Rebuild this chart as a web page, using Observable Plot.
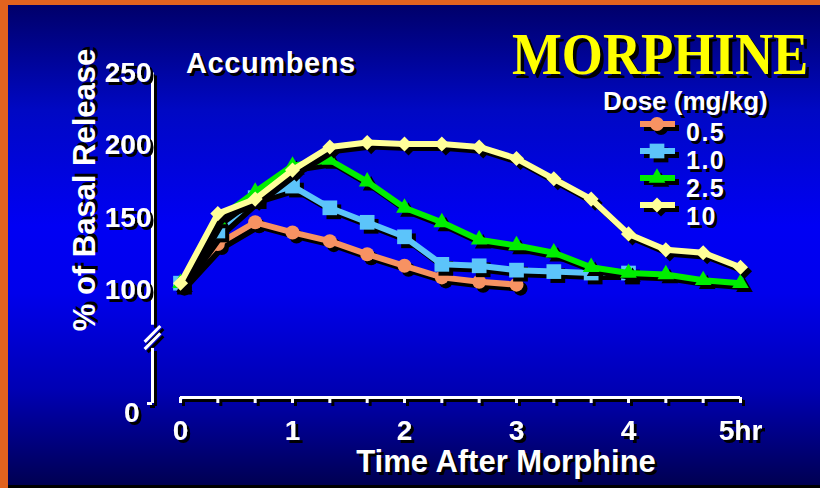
<!DOCTYPE html>
<html><head><meta charset="utf-8">
<script src="https://cdn.jsdelivr.net/npm/d3@7"></script>
<script src="https://cdn.jsdelivr.net/npm/@observablehq/plot@0.6"></script>
<style>
html,body{margin:0;padding:0;background:#e2631f;}
#wrap{position:relative;width:820px;height:488px;overflow:hidden;background:#e2631f;font-family:"Liberation Sans",Arial,sans-serif;font-weight:bold;}
#bg{position:absolute;left:8px;top:5px;right:0;bottom:0;background:linear-gradient(to bottom,#00006a 0%,#0008c4 22%,#0000f4 46%,#0000ec 60%,#0000b4 80%,#000052 100%);border-bottom:3px solid #000;}
#chart{position:absolute;left:0;top:0;}
.t{position:absolute;color:#fff;text-shadow:3px 3px 0 #000;white-space:nowrap;line-height:1;}
</style></head><body>
<div id="wrap"><div id="bg"></div><div id="chart"></div><div id="over"></div></div>
<script>
// ---- data ----
const minutes = [0,20,40,60,80,100,120,140,160,180,200,220,240,260,280,300];
const doses = ["0.5","1.0","2.5","10"];
const release05 = [104,132,147,140,134,125,117,109,106,104];
const release10 = [105,141,164,172,157,147,137,118,117,114,113,112,112];
const release25 = [105,149,168,186,190,175,157,147,135,131,126,116,112,111,107,105];
const release100 = [105,153,163,183,199,202,201,201,199,191,177,163,139,128,126,116];
const seriesColors = ["#f79262","#5cc4fa","#00ee00","#ffff99"];
const seriesSymbols = ["circle","square","triangle","diamond2"];
const yTickValues = [0,100,150,200,250];
const yTickLabels = ["0","100","150","200","250"];
const xTickValues = [0,1,2,3,4,5];
const xTickLabels = ["0","1","2","3","4","5hr"];
const titleText = "MORPHINE";
const regionText = "Accumbens";
const legendTitle = "Dose (mg/kg)";
const xTitle = "Time After Morphine";
const yTitle = "% of Basal Release";

// broken axis: the "0" is drawn at the axis floor
const AXIS_FLOOR = 22;
const xDomain = [-0.25, 5];
const yAxisSegments = [{from: 76, to: 250}, {from: AXIS_FLOOR, to: 60}];
const yBreaks = [70, 65];

const seriesValues = [release05, release10, release25, release100];
const series = doses.map((dose, i) => seriesValues[i].map((v, j) => ({dose, hours: minutes[j] / 60, release: v})));

const symR = {circle: 7, square: 8.3, triangle: 6.2, diamond2: 6.8};
const SH = 4; // drop shadow offset

const marks = [];
// axis lines (shadow copy, then white)
for (const [c, o] of [["black", SH - 1], ["white", 0]]) {
  marks.push(Plot.ruleX(yAxisSegments, {x: xDomain[0], y1: "from", y2: "to", stroke: c, strokeWidth: 3, dx: o, dy: o}));
  marks.push(Plot.link(yBreaks, {x1: () => xDomain[0] - 0.07, x2: () => xDomain[0] + 0.07, y1: d => d - 5.5, y2: d => d + 5.5, stroke: c, strokeWidth: 3, dx: o, dy: o}));
  marks.push(Plot.ruleY([AXIS_FLOOR], {x1: xTickValues[0], x2: xTickValues[xTickValues.length - 1], stroke: c, strokeWidth: 3, dx: o, dy: o - 6}));
  marks.push(Plot.axisX({ticks: minutes.map(m => m / 60), anchor: "bottom", tickSize: 6, text: null, label: null, stroke: c, strokeWidth: 3, dx: o, dy: o - 6}));
  marks.push(Plot.axisY({ticks: yTickValues.slice(1), anchor: "left", tickSize: 5, text: null, label: null, stroke: c, strokeWidth: 3, dx: o, dy: o}));
  marks.push(Plot.axisY({ticks: [AXIS_FLOOR], anchor: "left", tickSize: 5, text: null, label: null, stroke: c, strokeWidth: 3, dx: o, dy: o}));
}
// tick labels (shadow added by filter)
marks.push(Plot.axisX({ticks: xTickValues, anchor: "bottom", tickSize: 0, tickPadding: 17, label: null, fontSize: 28, fill: "white", tickFormat: d => xTickLabels[xTickValues.indexOf(d)]}));
marks.push(Plot.axisY({ticks: yTickValues.slice(1), anchor: "left", tickSize: 5, tickPadding: -4, label: null, fontSize: 28, fill: "white", stroke: "white", strokeWidth: 3, tickFormat: d => yTickLabels[yTickValues.indexOf(d)]}));
marks.push(Plot.text([yTickValues[0]], {x: xDomain[0], y: AXIS_FLOOR, text: d => yTickLabels[0], fontSize: 28, fill: "white", textAnchor: "end", dx: -13, dy: 10}));
// series
series.forEach((rows, i) => {
  const sym = seriesSymbols[i];
  marks.push(Plot.line(rows, {x: "hours", y: "release", stroke: "black", strokeWidth: 6, strokeLinejoin: "miter", dx: SH, dy: SH}));
  marks.push(Plot.dot(rows, {x: "hours", y: "release", symbol: sym, r: symR[sym], fill: "black", dx: SH, dy: SH}));
  marks.push(Plot.line(rows, {x: "hours", y: "release", stroke: seriesColors[i], strokeWidth: 6, strokeLinejoin: "miter"}));
  marks.push(Plot.dot(rows, {x: "hours", y: "release", symbol: sym, r: symR[sym], fill: seriesColors[i]}));
});

const chart = Plot.plot({
  width: 820, height: 488,
  marginLeft: 152, marginRight: 80, marginTop: 72.5, marginBottom: 85,
  x: {domain: xDomain, axis: null},
  y: {domain: [AXIS_FLOOR, 250], axis: null},
  style: {background: "transparent", overflow: "visible", fontFamily: "Liberation Sans, Arial, sans-serif", fontWeight: "bold"},
  marks
});
const ns = "http://www.w3.org/2000/svg";
const defs = document.createElementNS(ns, "defs");
defs.innerHTML = '<filter id="plotShadow" x="-0.3" y="-0.3" width="1.8" height="1.8"><feDropShadow dx="3" dy="3" stdDeviation="0" flood-color="#000" flood-opacity="1"/></filter>';
chart.insertBefore(defs, chart.firstChild);
chart.querySelectorAll('g[aria-label$="tick label"], g[aria-label="text"]').forEach(g => g.setAttribute("filter", "url(#plotShadow)"));
document.getElementById("chart").appendChild(chart);

// ---- overlay texts and legend ----
const over = document.getElementById("over");
function addText(txt, css) {
  const d = document.createElement("div");
  d.className = "t";
  d.textContent = txt;
  Object.assign(d.style, css);
  over.appendChild(d);
  return d;
}
addText(titleText, {left: "512px", top: "24px", fontSize: "60px", fontFamily: "'Liberation Serif','Times New Roman',serif", color: "#ffff00", textShadow: "4px 4px 0 #000", transform: "scaleX(0.88)", transformOrigin: "left top"});
addText(regionText, {left: "186px", top: "49px", fontSize: "29px", letterSpacing: "0.6px"});
addText(legendTitle, {left: "603px", top: "88px", fontSize: "26px"});
addText(xTitle, {left: "506px", top: "446px", fontSize: "31px", transform: "translateX(-50%)"});
addText(yTitle, {left: "84px", top: "190px", fontSize: "31px", transform: "translate(-50%,-50%) rotate(-90deg)"});

const swatchCenters = [124, 151, 178, 205];
const symMap = {circle: d3.symbolCircle, square: d3.symbolSquare, triangle: d3.symbolTriangle, diamond2: d3.symbolDiamond2};
doses.forEach((dose, i) => {
  const sym = seriesSymbols[i];
  const r = symR[sym];
  const path = d3.symbol(symMap[sym], Math.PI * r * r)();
  const svg = document.createElementNS(ns, "svg");
  svg.setAttribute("width", 52); svg.setAttribute("height", 30);
  svg.style.position = "absolute"; svg.style.left = "636px"; svg.style.top = (swatchCenters[i] - 10) + "px"; svg.style.overflow = "visible";
  svg.innerHTML =
    `<line x1="${4 + SH}" x2="${39 + SH}" y1="${10 + SH}" y2="${10 + SH}" stroke="black" stroke-width="6"/>` +
    `<path d="${path}" transform="translate(${21 + SH},${10 + SH})" fill="black"/>` +
    `<line x1="4" x2="39" y1="10" y2="10" stroke="${seriesColors[i]}" stroke-width="6"/>` +
    `<path d="${path}" transform="translate(21,10)" fill="${seriesColors[i]}"/>`;
  over.appendChild(svg);
});
// legend labels as one stacked block
const legendLabels = document.createElement("div");
legendLabels.className = "t";
Object.assign(legendLabels.style, {left: "686px", top: "118px", fontSize: "25px", lineHeight: "28px", letterSpacing: "1.5px"});
legendLabels.innerHTML = doses.join("<br>");
over.appendChild(legendLabels);
</script>
</body></html>
